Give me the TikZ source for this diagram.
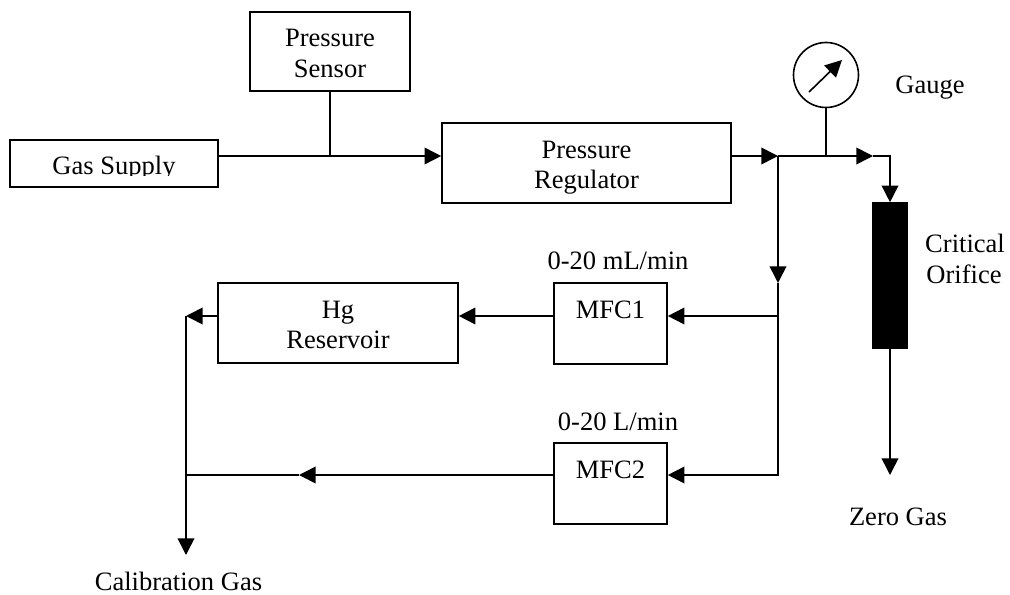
\documentclass[tikz,border=0pt]{standalone}
\usepackage{fontspec}
\setmainfont{Liberation Serif}
\usetikzlibrary{arrows.meta}
\tikzset{
    box/.style={draw,line width=1.2pt,inner sep=0pt},
    boxtext/.style={align=center,yshift=-3.4pt},
    tag/.style={anchor=base,inner sep=0pt},
    pipe/.style={line width=1.2pt},
    flow/.style={pipe,-{Triangle[length=12.5pt,width=12.5pt]}}
}
\begin{document}
\begin{tikzpicture}[x=0.75pt,y=-0.75pt,font=\fontsize{19.9}{23}\selectfont]
    \useasboundingbox (0,0) rectangle (1010,595);
    \node[box,minimum width=156pt,minimum height=35.25pt] (supply) at (114,163.5) {};
    \node[box,minimum width=120pt,minimum height=59.25pt] (sensor) at (330,51.5) {};
    \node[box,minimum width=216.75pt,minimum height=60pt] (regulator) at (586.5,163) {};
    \node[box,minimum width=180pt,minimum height=60pt] (hg) at (338,323) {};
    \node[box,minimum width=84.75pt,minimum height=60.75pt] (mfcone) at (610.5,323.5) {};
    \node[box,minimum width=84.75pt,minimum height=60.75pt] (mfctwo) at (610.5,483.5) {};
    \node[box,circle,minimum size=48.75pt] (gauge) at (826,75) {};
    \node[box,fill=black,minimum width=25.5pt,minimum height=108.75pt] (orifice) at (890,275.5) {};

    \begin{scope}
        \clip (supply.north west) rectangle (218,176);
        \node[tag] (supplytext) at (114,175) {Gas Supply};
    \end{scope}
    \node[boxtext] (sensortext) at (sensor) {\strut Pressure\\\strut Sensor};
    \node[boxtext] (regulatortext) at (regulator) {\strut Pressure\\\strut Regulator};
    \node[boxtext] (hgtext) at (hg) {\strut Hg\\\strut Reservoir};
    \node[boxtext] (mfconetext) at (mfcone) {\strut MFC1\\\strut};
    \node[boxtext] (mfctwotext) at (mfctwo) {\strut MFC2\\\strut};
    \node[tag] (gaugetext) at (930,94) {Gauge};
    \node[tag] (criticaltext) at (965,253) {Critical};
    \node[tag] (orificetext) at (964,284) {Orifice};
    \node[tag] (mfconerange) at (618,270) {0-20 mL/min};
    \node[tag] (mfctworange) at (618,430) {0-20 L/min};
    \node[tag] (zerotext) at (898,525) {Zero Gas};
    \node[tag] (calibtext) at (178.5,590) {Calibration Gas};

    \coordinate (main) at (778,156);
    \coordinate (mainend) at (873,156);
    \coordinate (branch) at (778,283);
    \coordinate (tee) at (778,316);
    \coordinate (low) at (778,475);
    \coordinate (out) at (186,316);
    \coordinate (lowtip) at (299,475);
    \coordinate (calib) at (186,555);
    \coordinate (zero) at (890,475);
    \coordinate (needlefoot) at (809,92);
    \coordinate (needletip) at (842,60);

    \draw[flow] (supply.east |- main) -- (regulator.west |- main);
    \draw[pipe] (sensor.south) -- (sensor.south |- main);
    \draw[flow] (regulator.east |- main) -- (main);
    \draw[flow] (main) -- (mainend);
    \draw[pipe] (gauge.south) -- (gauge.south |- main);
    \draw[flow] (mainend) -| (orifice.north);
    \draw[flow] (orifice.south) -- (zero);
    \draw[flow] (needlefoot) -- (needletip);
    \draw[flow] (main) -- (branch);
    \draw[pipe] (branch) -- (tee);
    \draw[flow] (tee) -- (mfcone.east |- tee);
    \draw[flow] (tee) |- (mfctwo.east |- low);
    \draw[flow] (mfcone.west |- tee) -- (hg.east |- tee);
    \draw[flow] (hg.west |- tee) -- (out);
    \draw[flow] (mfctwo.west |- low) -- (lowtip);
    \draw[pipe] (lowtip) -- (out |- low);
    \draw[flow] (out) -- (calib);
\end{tikzpicture}
\end{document}
